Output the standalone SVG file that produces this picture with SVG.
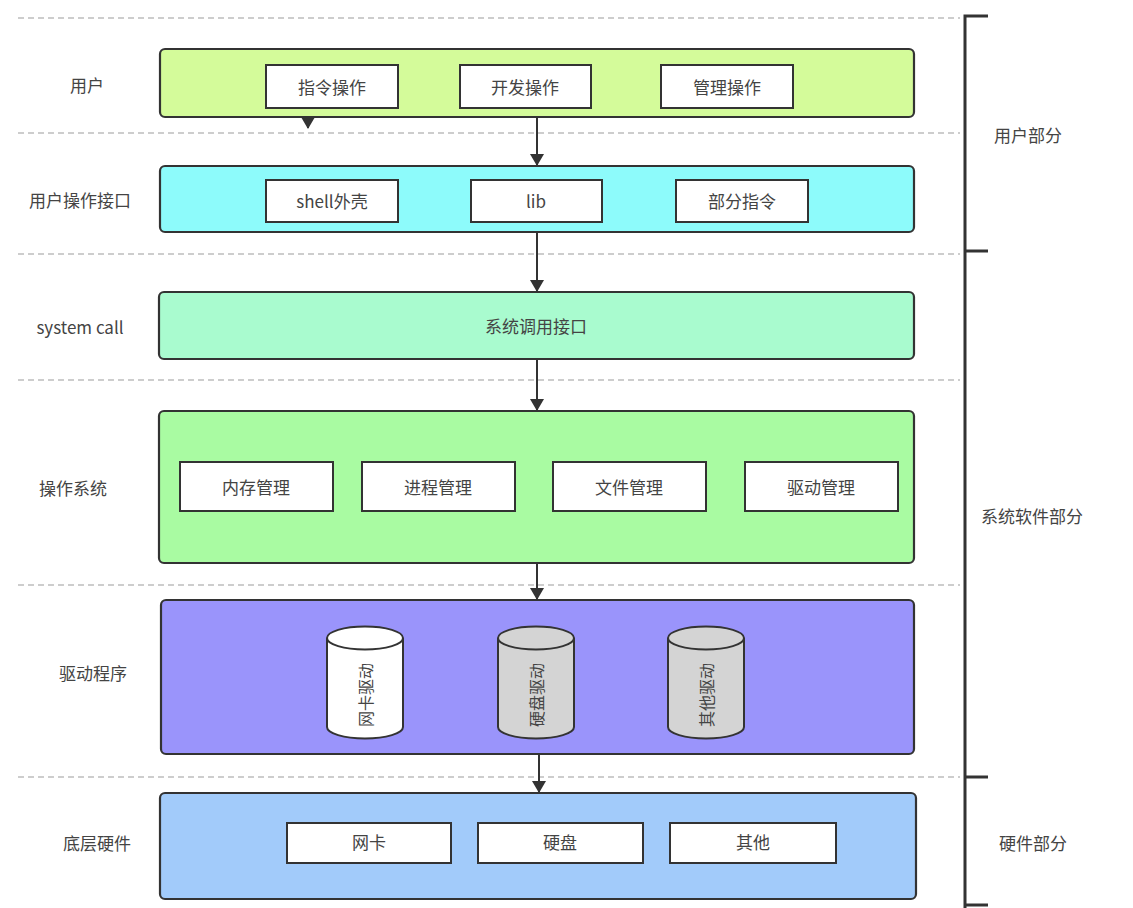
<svg xmlns="http://www.w3.org/2000/svg" width="1133" height="908" viewBox="0 0 1133 908">
<defs>
<style>
.dash{stroke:#bdbdbd;stroke-width:1.5;stroke-dasharray:6 4;fill:none}
.layer{stroke:#333;stroke-width:2.2}
.box{fill:#fff;stroke:#333;stroke-width:2}
.t{font-family:"Noto Sans CJK SC","Liberation Sans",sans-serif;font-size:17px;fill:#444;text-anchor:middle;dominant-baseline:central}
.lbl{font-family:"Noto Sans CJK SC","Liberation Sans",sans-serif;font-size:17px;fill:#444;text-anchor:middle;dominant-baseline:central}
.ct{font-family:"Noto Sans CJK SC","Liberation Sans",sans-serif;font-size:16px;fill:#444;text-anchor:middle;dominant-baseline:central}
.br{stroke:#333;stroke-width:3;fill:none}
.conn{stroke:#333;stroke-width:2;fill:none}
.cyl{stroke:#333;stroke-width:2}
</style>
<marker id="ah" markerWidth="12" markerHeight="14" refX="11" refY="7" orient="auto" markerUnits="userSpaceOnUse">
<path d="M0,0 L12,7 L0,14 Z" fill="#333"/>
</marker>
</defs>
<rect width="1133" height="908" fill="#fff"/>

<g id="guides">
<line class="dash" x1="18" y1="18" x2="960" y2="18"/>
<line class="dash" x1="18" y1="133" x2="960" y2="133"/>
<line class="dash" x1="18" y1="254" x2="960" y2="254"/>
<line class="dash" x1="18" y1="380" x2="960" y2="380"/>
<line class="dash" x1="18" y1="585" x2="960" y2="585"/>
<line class="dash" x1="18" y1="777" x2="960" y2="777"/>
</g>

<g id="bracket">
<path class="br" d="M988,16 H965 V908"/>
<line class="br" x1="965" y1="251" x2="988" y2="251"/>
<line class="br" x1="965" y1="777" x2="988" y2="777"/>
<line class="br" x1="965" y1="905" x2="988" y2="905"/>
<text class="lbl" x="1028" y="134">用户部分</text>
<text class="lbl" x="1032" y="515">系统软件部分</text>
<text class="lbl" x="1033" y="842">硬件部分</text>
</g>

<g id="layer-user">
<text class="lbl" x="87" y="84">用户</text>
<rect class="layer" x="160" y="49" width="754" height="68" rx="5" fill="#d4fb9a"/>
<rect class="box" x="266" y="65" width="132" height="43"/>
<text class="t" x="332" y="86">指令操作</text>
<rect class="box" x="460" y="65" width="131" height="43"/>
<text class="t" x="525" y="86">开发操作</text>
<rect class="box" x="661" y="65" width="132" height="43"/>
<text class="t" x="727" y="86">管理操作</text>
</g>

<g id="layer-ui">
<text class="lbl" x="80" y="199">用户操作接口</text>
<rect class="layer" x="160" y="166" width="754" height="66" rx="5" fill="#8dfbfb"/>
<rect class="box" x="266" y="180" width="132" height="42"/>
<text class="t" x="332" y="200">shell外壳</text>
<rect class="box" x="471" y="180" width="131" height="42"/>
<text class="t" x="536" y="200">lib</text>
<rect class="box" x="676" y="180" width="132" height="42"/>
<text class="t" x="742" y="200">部分指令</text>
</g>

<g id="layer-syscall">
<text class="lbl" x="80" y="326">system call</text>
<rect class="layer" x="159" y="292" width="755" height="67" rx="5" fill="#a9fbcf"/>
<text class="t" x="536" y="325">系统调用接口</text>
</g>

<g id="layer-os">
<text class="lbl" x="73" y="487">操作系统</text>
<rect class="layer" x="159" y="411" width="755" height="152" rx="5" fill="#a9fba2"/>
<rect class="box" x="180" y="462" width="153" height="49"/>
<text class="t" x="256" y="486">内存管理</text>
<rect class="box" x="362" y="462" width="153" height="49"/>
<text class="t" x="438" y="486">进程管理</text>
<rect class="box" x="553" y="462" width="153" height="49"/>
<text class="t" x="629" y="486">文件管理</text>
<rect class="box" x="745" y="462" width="153" height="49"/>
<text class="t" x="821" y="486">驱动管理</text>
</g>

<g id="layer-driver">
<text class="lbl" x="93" y="672">驱动程序</text>
<rect class="layer" x="161" y="600" width="753" height="154" rx="5" fill="#9a94fb"/>
<g id="cyl-nic">
<path class="cyl" fill="#fff" d="M327,638 V727 A38,11.5 0 0 0 403,727 V638"/>
<ellipse class="cyl" cx="365" cy="638" rx="38" ry="11.5" fill="#fff"/>
<text class="ct" x="0" y="0" transform="translate(365,695) rotate(-90)">网卡驱动</text>
</g>
<g id="cyl-disk">
<path class="cyl" fill="#d4d4d4" d="M498,638 V727 A38,11.5 0 0 0 574,727 V638"/>
<ellipse class="cyl" cx="536" cy="638" rx="38" ry="11.5" fill="#d4d4d4"/>
<text class="ct" x="0" y="0" transform="translate(536,695) rotate(-90)">硬盘驱动</text>
</g>
<g id="cyl-other">
<path class="cyl" fill="#d4d4d4" d="M668,638 V727 A38,11.5 0 0 0 744,727 V638"/>
<ellipse class="cyl" cx="706" cy="638" rx="38" ry="11.5" fill="#d4d4d4"/>
<text class="ct" x="0" y="0" transform="translate(706,695) rotate(-90)">其他驱动</text>
</g>
</g>

<g id="layer-hw">
<text class="lbl" x="97" y="842">底层硬件</text>
<rect class="layer" x="160" y="793" width="756" height="106" rx="5" fill="#a2cbfa"/>
<rect class="box" x="287" y="823" width="164" height="40"/>
<text class="t" x="369" y="841">网卡</text>
<rect class="box" x="478" y="823" width="165" height="40"/>
<text class="t" x="560" y="841">硬盘</text>
<rect class="box" x="670" y="823" width="166" height="40"/>
<text class="t" x="753" y="841">其他</text>
</g>

<g id="connectors">
<line class="conn" x1="308" y1="117" x2="308" y2="128" marker-end="url(#ah)"/>
<line class="conn" x1="537" y1="117" x2="537" y2="165" marker-end="url(#ah)"/>
<line class="conn" x1="537" y1="232" x2="537" y2="291" marker-end="url(#ah)"/>
<line class="conn" x1="537" y1="359" x2="537" y2="410" marker-end="url(#ah)"/>
<line class="conn" x1="537" y1="563" x2="537" y2="599" marker-end="url(#ah)"/>
<line class="conn" x1="539" y1="754" x2="539" y2="792" marker-end="url(#ah)"/>
</g>
</svg>
